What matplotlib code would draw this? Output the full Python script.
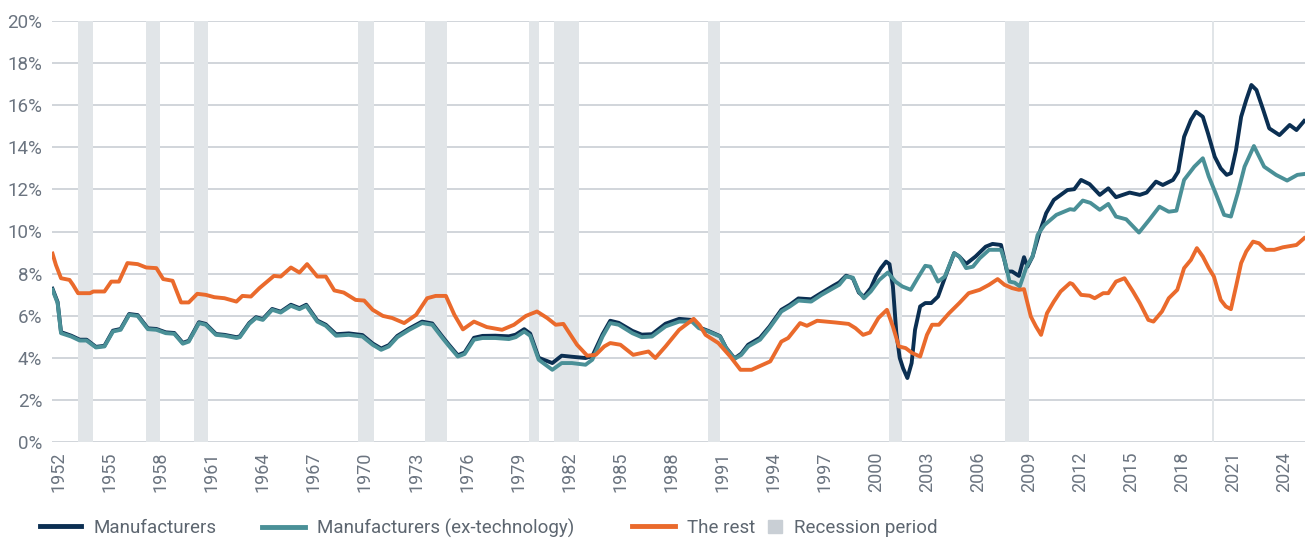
import matplotlib
matplotlib.use("Agg")
import matplotlib.pyplot as plt
import matplotlib.patches as mpatches
from matplotlib.lines import Line2D
from matplotlib.legend_handler import HandlerPatch

plt.rcParams['font.family'] = ['Roboto', 'DejaVu Sans']

# Manufacturers (navy)
mfg_years = [1952.0, 1952.3, 1952.5, 1953.1, 1953.6, 1954.0, 1954.55, 1955.05, 1955.55, 1956.0,
             1956.5, 1957.0, 1957.6, 1958.1, 1958.65, 1959.15, 1959.65, 1960.0, 1960.6, 1961.0,
             1961.6, 1962.1, 1962.8, 1963.0, 1963.55, 1963.95, 1964.35, 1964.9, 1965.4, 1966.0,
             1966.5, 1966.9, 1967.55, 1968.05, 1968.65, 1969.4, 1970.2, 1970.8, 1971.3, 1971.75,
             1972.25, 1972.95, 1973.7, 1974.3, 1974.9, 1975.3, 1975.8, 1976.2, 1976.75, 1977.25,
             1978.0, 1978.8, 1979.2, 1979.7, 1980.05, 1980.55, 1981.35, 1981.9, 1982.5, 1983.3,
             1983.7, 1984.3, 1984.75, 1985.25, 1986.05, 1986.6, 1987.2, 1988.0, 1988.8, 1989.55,
             1989.95, 1990.5, 1991.2, 1991.55, 1992.05, 1992.45, 1992.85, 1993.55, 1994.1, 1994.8,
             1995.3, 1995.8, 1996.55, 1997.15, 1997.85, 1998.2, 1998.6, 1999.0, 1999.35, 1999.65,
             2000.05, 2000.35, 2000.65, 2000.95, 2001.15, 2001.35, 2001.55, 2001.75, 2001.95, 2002.2,
             2002.45, 2002.65, 2002.95, 2003.25, 2003.6, 2004.0, 2004.5, 2004.95, 2005.25, 2005.65,
             2006.2, 2006.8, 2007.2, 2007.7, 2008.05, 2008.35, 2008.75, 2009.05, 2009.25, 2009.55,
             2009.95, 2010.35, 2010.8, 2011.6, 2012.0, 2012.4, 2012.9, 2013.5, 2014.0, 2014.45,
             2015.25, 2015.85, 2016.25, 2016.8, 2017.2, 2017.8, 2018.1, 2018.45, 2018.85, 2019.15,
             2019.55, 2019.85, 2020.25, 2020.6, 2020.95, 2021.2, 2021.5, 2021.8, 2022.1, 2022.4,
             2022.7, 2023.1, 2023.45, 2024.05, 2024.65, 2025.05, 2025.5]
mfg_vals = [7.28, 6.65, 5.22, 5.05, 4.86, 4.86, 4.52, 4.57, 5.29, 5.37,
            6.08, 6.03, 5.40, 5.37, 5.21, 5.18, 4.71, 4.81, 5.69, 5.61,
            5.13, 5.09, 4.98, 5.02, 5.65, 5.93, 5.84, 6.32, 6.19, 6.52,
            6.36, 6.52, 5.77, 5.57, 5.12, 5.16, 5.08, 4.68, 4.44, 4.60,
            5.04, 5.39, 5.72, 5.63, 5.00, 4.60, 4.12, 4.25, 4.95, 5.04,
            5.05, 5.02, 5.10, 5.36, 5.15, 4.00, 3.75, 4.10, 4.05, 3.99,
            4.08, 5.12, 5.76, 5.66, 5.28, 5.10, 5.12, 5.62, 5.85, 5.80,
            5.45, 5.28, 5.03, 4.48, 3.97, 4.20, 4.62, 4.95, 5.48, 6.28,
            6.52, 6.82, 6.78, 7.08, 7.42, 7.58, 7.90, 7.78, 7.10, 6.90,
            7.31, 7.86, 8.26, 8.57, 8.45, 7.40, 5.20, 4.00, 3.50, 3.04,
            3.75, 5.33, 6.44, 6.60, 6.60, 6.91, 8.02, 8.97, 8.81, 8.46,
            8.81, 9.28, 9.41, 9.36, 8.10, 8.10, 7.89, 8.78, 8.33, 8.81,
            9.92, 10.87, 11.50, 11.97, 12.01, 12.45, 12.25, 11.74, 12.05, 11.63,
            11.85, 11.74, 11.85, 12.37, 12.21, 12.45, 12.84, 14.50, 15.30, 15.69,
            15.45, 14.67, 13.55, 13.00, 12.69, 12.77, 13.87, 15.45, 16.25, 16.96,
            16.72, 15.77, 14.90, 14.58, 15.06, 14.82, 15.25]

# Manufacturers ex-technology (teal)
mfgx_years = [1952.0, 1952.3, 1952.5, 1953.1, 1953.6, 1954.0, 1954.55, 1955.05, 1955.55, 1956.0,
              1956.5, 1957.0, 1957.6, 1958.1, 1958.65, 1959.15, 1959.65, 1960.0, 1960.6, 1961.0,
              1961.6, 1962.1, 1962.8, 1963.0, 1963.55, 1963.95, 1964.35, 1964.9, 1965.4, 1966.0,
              1966.5, 1966.9, 1967.55, 1968.05, 1968.65, 1969.4, 1970.2, 1970.8, 1971.3, 1971.75,
              1972.25, 1972.95, 1973.7, 1974.3, 1974.9, 1975.3, 1975.8, 1976.2, 1976.75, 1977.25,
              1978.0, 1978.8, 1979.2, 1979.7, 1980.05, 1980.55, 1981.35, 1981.9, 1982.5, 1983.3,
              1983.7, 1984.3, 1984.75, 1985.25, 1986.05, 1986.6, 1987.2, 1988.0, 1988.8, 1989.55,
              1989.95, 1990.5, 1991.2, 1991.55, 1992.05, 1992.45, 1992.85, 1993.55, 1994.1, 1994.8,
              1995.3, 1995.8, 1996.55, 1997.15, 1997.85, 1998.2, 1998.6, 1999.0, 1999.35, 1999.65,
              2000.05, 2000.55, 2001.05, 2001.5, 2001.9, 2002.4, 2002.8, 2003.25, 2003.55, 2004.0,
              2004.4, 2004.95, 2005.25, 2005.65, 2006.05, 2006.45, 2007.0, 2007.7, 2007.95, 2008.2,
              2008.5, 2008.8, 2009.2, 2009.55, 2009.85, 2010.25, 2010.95, 2011.75, 2012.0, 2012.5,
              2012.95, 2013.5, 2014.0, 2014.45, 2015.05, 2015.8, 2016.4, 2017.0, 2017.55, 2018.0,
              2018.45, 2019.05, 2019.55, 2019.9, 2020.3, 2020.8, 2021.2, 2021.6, 2022.0, 2022.55,
              2023.15, 2023.85, 2024.5, 2025.1, 2025.5]
mfgx_vals = [7.23, 6.60, 5.17, 5.01, 4.82, 4.82, 4.49, 4.54, 5.25, 5.33,
             6.04, 5.99, 5.36, 5.33, 5.17, 5.14, 4.67, 4.77, 5.65, 5.57,
             5.09, 5.05, 4.94, 4.98, 5.61, 5.89, 5.80, 6.28, 6.15, 6.47,
             6.31, 6.47, 5.72, 5.52, 5.05, 5.09, 5.01, 4.62, 4.38, 4.54,
             4.98, 5.33, 5.65, 5.57, 4.94, 4.54, 4.06, 4.18, 4.86, 4.94,
             4.94, 4.89, 4.98, 5.25, 5.05, 3.91, 3.43, 3.75, 3.75, 3.67,
             3.91, 5.01, 5.65, 5.57, 5.17, 4.98, 5.01, 5.49, 5.72, 5.72,
             5.41, 5.25, 5.01, 4.46, 3.95, 4.14, 4.54, 4.86, 5.41, 6.20,
             6.44, 6.72, 6.67, 6.99, 7.31, 7.47, 7.86, 7.81, 7.15, 6.83,
             7.15, 7.70, 8.05, 7.62, 7.39, 7.23, 7.78, 8.37, 8.33, 7.62,
             7.86, 8.97, 8.81, 8.26, 8.33, 8.73, 9.13, 9.13, 8.50, 7.62,
             7.57, 7.39, 8.33, 8.81, 9.84, 10.31, 10.79, 11.06, 11.03, 11.47,
             11.36, 11.03, 11.31, 10.71, 10.58, 9.95, 10.55, 11.18, 10.94, 10.99,
             12.45, 13.08, 13.48, 12.61, 11.82, 10.79, 10.71, 11.82, 13.08, 14.06,
             13.08, 12.69, 12.42, 12.69, 12.73]

# The rest (orange)
rest_years = [1952.0, 1952.2, 1952.5, 1953.0, 1953.2, 1953.5, 1954.2, 1954.4, 1955.05, 1955.45,
              1955.9, 1956.4, 1957.0, 1957.5, 1958.1, 1958.5, 1959.05, 1959.55, 1960.0, 1960.5,
              1961.0, 1961.5, 1962.1, 1962.8, 1963.15, 1963.65, 1964.15, 1965.0, 1965.4, 1966.0,
              1966.5, 1966.95, 1967.55, 1968.05, 1968.55, 1969.1, 1969.8, 1970.3, 1970.8, 1971.4,
              1971.95, 1972.65, 1973.35, 1974.0, 1974.5, 1975.1, 1975.6, 1976.1, 1976.75, 1977.5,
              1978.4, 1979.1, 1979.8, 1980.45, 1981.05, 1981.55, 1982.0, 1982.8, 1983.4, 1983.9,
              1984.4, 1984.75, 1985.35, 1986.1, 1987.0, 1987.4, 1988.0, 1988.8, 1989.65, 1990.0,
              1990.35, 1991.1, 1991.8, 1992.4, 1993.05, 1994.15, 1994.8, 1995.2, 1995.9, 1996.3,
              1996.9, 1997.95, 1998.75, 1999.15, 1999.6, 2000.0, 2000.5, 2001.0, 2001.35, 2001.7,
              2002.1, 2002.5, 2002.95, 2003.35, 2003.65, 2004.05, 2004.65, 2005.25, 2005.8, 2006.45,
              2007.0, 2007.5, 2007.9, 2008.35, 2008.75, 2009.05, 2009.45, 2009.75, 2010.05, 2010.4,
              2010.8, 2011.2, 2011.75, 2011.9, 2012.4, 2012.9, 2013.2, 2013.7, 2014.0, 2014.45,
              2014.95, 2015.45, 2015.85, 2016.35, 2016.65, 2017.15, 2017.55, 2018.05, 2018.45, 2018.85,
              2019.2, 2019.55, 2019.9, 2020.2, 2020.6, 2020.9, 2021.2, 2021.5, 2021.8, 2022.1,
              2022.5, 2022.85, 2023.25, 2023.75, 2024.25, 2025.05, 2025.5]
rest_vals = [8.95, 8.41, 7.78, 7.70, 7.47, 7.07, 7.07, 7.15, 7.15, 7.62,
             7.62, 8.50, 8.45, 8.29, 8.26, 7.74, 7.66, 6.63, 6.63, 7.04,
             6.99, 6.88, 6.83, 6.67, 6.94, 6.91, 7.31, 7.89, 7.86, 8.29,
             8.05, 8.45, 7.86, 7.86, 7.20, 7.10, 6.75, 6.72, 6.28, 5.99,
             5.89, 5.65, 6.04, 6.83, 6.94, 6.94, 6.04, 5.35, 5.72, 5.46,
             5.33, 5.57, 5.99, 6.20, 5.89, 5.57, 5.61, 4.62, 4.10, 4.14,
             4.54, 4.70, 4.62, 4.14, 4.30, 3.99, 4.54, 5.33, 5.85, 5.55,
             5.09, 4.70, 4.06, 3.43, 3.43, 3.83, 4.77, 4.94, 5.65, 5.52,
             5.76, 5.68, 5.61, 5.41, 5.09, 5.20, 5.89, 6.28, 5.49, 4.54,
             4.46, 4.22, 4.06, 5.09, 5.57, 5.57, 6.12, 6.60, 7.07, 7.23,
             7.47, 7.74, 7.47, 7.31, 7.23, 7.26, 5.96, 5.49, 5.09, 6.12,
             6.67, 7.15, 7.55, 7.50, 6.99, 6.95, 6.83, 7.07, 7.07, 7.62,
             7.78, 7.15, 6.60, 5.80, 5.72, 6.20, 6.83, 7.23, 8.26, 8.65,
             9.21, 8.81, 8.26, 7.86, 6.75, 6.44, 6.31, 7.39, 8.50, 9.05,
             9.52, 9.44, 9.13, 9.13, 9.25, 9.36, 9.68]

rec_starts = [1953.5, 1957.5, 1960.3, 1969.95, 1973.88, 1980.0, 1981.45, 1990.5, 2001.15, 2007.92, 2020.1]
rec_ends = [1954.38, 1958.3, 1961.12, 1970.85, 1975.15, 1980.58, 1982.92, 1991.2, 2001.87, 2009.35, 2020.22]

tick_years = list(range(1952, 2025, 3))

navy = '#0b2f52'
teal = '#4a9097'
orange = '#ea6a2c'
bar_col = '#e1e5e8'
grid_col = '#c9ced4'
text_col = '#6b7480'

fig = plt.figure(figsize=(13.08, 5.4), dpi=100)
ax = fig.add_axes([52 / 1308, 1 - 442 / 540, (1305 - 52) / 1308, (442 - 21) / 540])

for s, e in zip(rec_starts, rec_ends):
    ax.axvspan(s, e, color=bar_col, lw=0, zorder=1)

ax.plot(mfg_years, mfg_vals, color=navy, lw=2.8, zorder=3, solid_joinstyle='round')
ax.plot(mfgx_years, mfgx_vals, color=teal, lw=2.8, zorder=4, solid_joinstyle='round')
ax.plot(rest_years, rest_vals, color=orange, lw=2.8, zorder=5, solid_joinstyle='round')

ax.set_xlim(1951.97, 2025.55)
ax.set_ylim(0, 20)
ax.set_yticks(range(0, 21, 2))
ax.set_yticklabels([f'{v}%' for v in range(0, 21, 2)])
ax.set_xticks([y + 0.35 for y in tick_years])
ax.set_xticklabels([str(y) for y in tick_years], rotation=90)
ax.yaxis.grid(True, color=grid_col, lw=1.2)
ax.set_axisbelow(True)
for sp in ax.spines.values():
    sp.set_visible(False)
ax.tick_params(axis='both', length=0, labelcolor=text_col, labelsize=13.5)
ax.tick_params(axis='y', pad=7)
ax.tick_params(axis='x', pad=7, labelsize=13)


def square_patch(legend, orig_handle, xdescent, ydescent, width, height, fontsize):
    s = width
    return mpatches.Rectangle((-xdescent, -ydescent + (height - s) / 2), s, s)


# legend entries: (handle, label, left pixel, handle length)
rec_handle = mpatches.Patch(color='#c9cfd5')
entries = [
    (Line2D([], [], color=navy, lw=3.5), 'Manufacturers', 40, 2.2),
    (Line2D([], [], color=teal, lw=3.5), 'Manufacturers (ex-technology)', 262, 2.3),
    (Line2D([], [], color=orange, lw=3.5), 'The rest', 632, 2.3),
    (rec_handle, 'Recession period', 768, 0.72),
]
for h, lab, xpix, hl in entries:
    fig.legend([h], [lab], loc='center left', bbox_to_anchor=(xpix / 1308, 1 - 528 / 540),
               frameon=False, handlelength=hl, handletextpad=0.65,
               borderpad=0, borderaxespad=0, fontsize=13.5, labelcolor='#5d6670',
               handler_map={rec_handle: HandlerPatch(patch_func=square_patch)})

fig.savefig('out.png', dpi=100)
